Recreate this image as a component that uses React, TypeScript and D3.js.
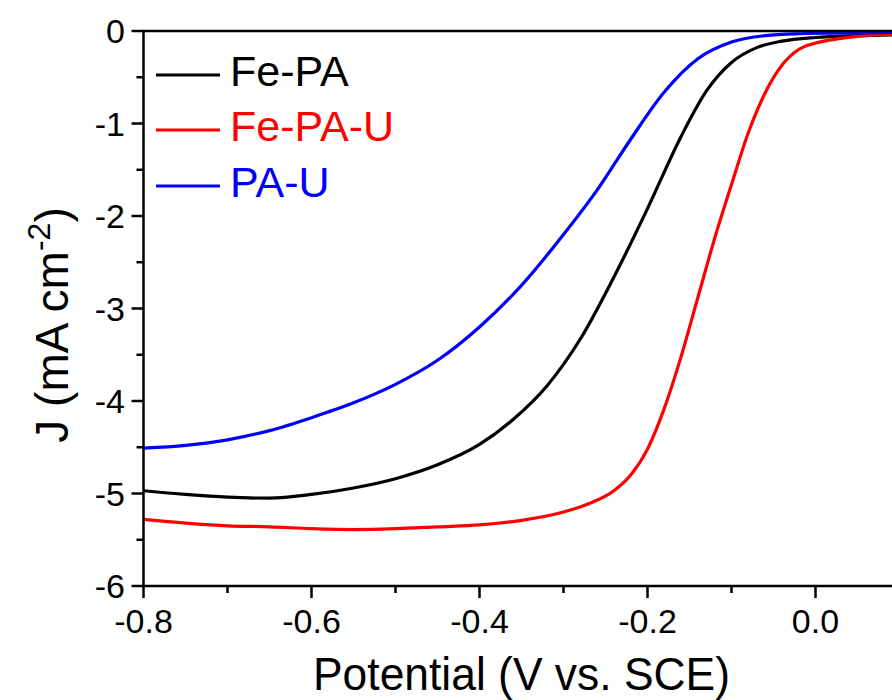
import React, { useRef, useEffect } from "react";
import * as d3 from "d3";

// potential (V vs. SCE) and current density (mA cm-2)
const fePAx = [-0.8, -0.75, -0.7, -0.65, -0.6, -0.55, -0.5, -0.45, -0.4, -0.36, -0.32, -0.28, -0.24, -0.2, -0.16, -0.13, -0.1, -0.07, -0.04, 0.0, 0.05, 0.1];
const fePAy = [-4.97, -5.01, -5.04, -5.05, -5.01, -4.94, -4.84, -4.69, -4.47, -4.2, -3.84, -3.33, -2.66, -1.92, -1.14, -0.65, -0.34, -0.18, -0.11, -0.07, -0.05, -0.04];

const fePAUx = [-0.8, -0.75, -0.7, -0.65, -0.6, -0.55, -0.5, -0.45, -0.4, -0.35, -0.3, -0.27, -0.24, -0.22, -0.2, -0.18, -0.16, -0.14, -0.12, -0.1, -0.08, -0.06, -0.04, -0.02, 0.0, 0.03, 0.06, 0.1];
const fePAUy = [-5.28, -5.32, -5.35, -5.36, -5.38, -5.39, -5.38, -5.36, -5.34, -5.29, -5.2, -5.11, -4.97, -4.8, -4.52, -4.08, -3.52, -2.88, -2.24, -1.66, -1.1, -0.67, -0.37, -0.2, -0.13, -0.08, -0.05, -0.035];

const paUx = [-0.8, -0.75, -0.7, -0.65, -0.6, -0.55, -0.5, -0.45, -0.4, -0.35, -0.3, -0.26, -0.22, -0.18, -0.14, -0.1, -0.06, -0.02, 0.05, 0.1];
const paUy = [-4.51, -4.48, -4.42, -4.32, -4.18, -4.02, -3.82, -3.56, -3.2, -2.75, -2.2, -1.72, -1.17, -0.66, -0.3, -0.12, -0.05, -0.03, -0.02, -0.015];

const seriesNames = ["Fe-PA", "Fe-PA-U", "PA-U"];
const seriesColors = ["#000000", "#ff0000", "#0000ff"];

const xTicks = [-0.8, -0.6, -0.4, -0.2, 0.0];
const xMinor = [-0.7, -0.5, -0.3, -0.1, 0.1];
const yTicks = [0, -1, -2, -3, -4, -5, -6];
const yMinor = [-0.5, -1.5, -2.5, -3.5, -4.5, -5.5];

const App = () => {
  const svgRef = useRef(null);

  useEffect(() => {
    const w = 892;
    const h = 700;
    const font = "'Liberation Sans', Arial, sans-serif";

    const svg = d3.select(svgRef.current).attr("width", w).attr("height", h);
    svg.selectAll("*").remove();

    const x = d3.scaleLinear().domain([-0.8, 0.1]).range([143.5, 899.5]);
    const y = d3.scaleLinear().domain([-6, 0]).range([586, 31]);

    const series = [
      { xs: fePAx, ys: fePAy },
      { xs: fePAUx, ys: fePAUy },
      { xs: paUx, ys: paUy },
    ];

    const line = d3
      .line<[number, number]>()
      .x((d) => x(d[0]))
      .y((d) => y(d[1]))
      .curve(d3.curveMonotoneX);

    series.forEach((s, i) => {
      const pts = s.xs.map((v, j) => [v, s.ys[j]] as [number, number]);
      svg
        .append("path")
        .attr("d", line(pts))
        .attr("fill", "none")
        .attr("stroke", seriesColors[i])
        .attr("stroke-width", 3.2);
    });

    // frame: left, bottom, top
    const axisColor = "#000";
    svg.append("line").attr("x1", x(-0.8)).attr("x2", x(-0.8)).attr("y1", y(0)).attr("y2", y(-6))
      .attr("stroke", axisColor).attr("stroke-width", 2.5);
    svg.append("line").attr("x1", x(-0.8) - 1).attr("x2", w).attr("y1", y(-6)).attr("y2", y(-6))
      .attr("stroke", axisColor).attr("stroke-width", 2.5);
    svg.append("line").attr("x1", x(-0.8) - 1).attr("x2", w).attr("y1", y(0)).attr("y2", y(0))
      .attr("stroke", axisColor).attr("stroke-width", 2.5);

    // x axis ticks
    const gx = svg.append("g");
    gx.selectAll(".maj").data(xTicks).enter().append("line")
      .attr("x1", (d) => x(d)).attr("x2", (d) => x(d))
      .attr("y1", y(-6)).attr("y2", y(-6) + 12)
      .attr("stroke", axisColor).attr("stroke-width", 2.5);
    gx.selectAll(".min").data(xMinor).enter().append("line")
      .attr("x1", (d) => x(d)).attr("x2", (d) => x(d))
      .attr("y1", y(-6)).attr("y2", y(-6) + 7)
      .attr("stroke", axisColor).attr("stroke-width", 2.5);
    gx.selectAll("text").data(xTicks).enter().append("text")
      .attr("x", (d) => x(d)).attr("y", 633)
      .attr("text-anchor", "middle")
      .attr("font-family", font).attr("font-size", 34)
      .text((d) => d3.format(".1f")(d).replace("−", "-"));

    // y axis ticks
    const gy = svg.append("g");
    gy.selectAll(".maj").data(yTicks).enter().append("line")
      .attr("x1", x(-0.8) - 12).attr("x2", x(-0.8))
      .attr("y1", (d) => y(d)).attr("y2", (d) => y(d))
      .attr("stroke", axisColor).attr("stroke-width", 2.5);
    gy.selectAll(".min").data(yMinor).enter().append("line")
      .attr("x1", x(-0.8) - 7).attr("x2", x(-0.8))
      .attr("y1", (d) => y(d)).attr("y2", (d) => y(d))
      .attr("stroke", axisColor).attr("stroke-width", 2.5);
    gy.selectAll("text").data(yTicks).enter().append("text")
      .attr("x", 125).attr("y", (d) => y(d) + 12)
      .attr("text-anchor", "end")
      .attr("font-family", font).attr("font-size", 34)
      .text((d) => String(d));

    // axis titles
    svg.append("text")
      .attr("x", 521.5).attr("y", 690)
      .attr("text-anchor", "middle")
      .attr("font-family", font).attr("font-size", 46)
      .attr("textLength", 417).attr("lengthAdjust", "spacingAndGlyphs")
      .text("Potential (V vs. SCE)");

    const yt = svg.append("text")
      .attr("transform", "translate(68,325) rotate(-90)")
      .attr("text-anchor", "middle")
      .attr("font-family", font).attr("font-size", 46);
    yt.append("tspan").text("J (mA cm");
    yt.append("tspan").attr("font-size", 32).attr("dy", -18).text("-2");
    yt.append("tspan").attr("dy", 18).text(")");

    // legend
    const legendY = [75, 130, 186];
    seriesNames.forEach((name, i) => {
      svg.append("line")
        .attr("x1", 156).attr("x2", 220)
        .attr("y1", legendY[i]).attr("y2", legendY[i])
        .attr("stroke", seriesColors[i]).attr("stroke-width", 3.2);
      svg.append("text")
        .attr("x", 230).attr("y", legendY[i] + 11)
        .attr("font-family", font).attr("font-size", 43)
        .attr("fill", seriesColors[i])
        .text(name);
    });
  }, []);

  return (
    <div style={{ position: "absolute", left: 0, top: 0 }}>
      <svg ref={svgRef} style={{ display: "block", background: "#fff" }}></svg>
    </div>
  );
};

export default App;
